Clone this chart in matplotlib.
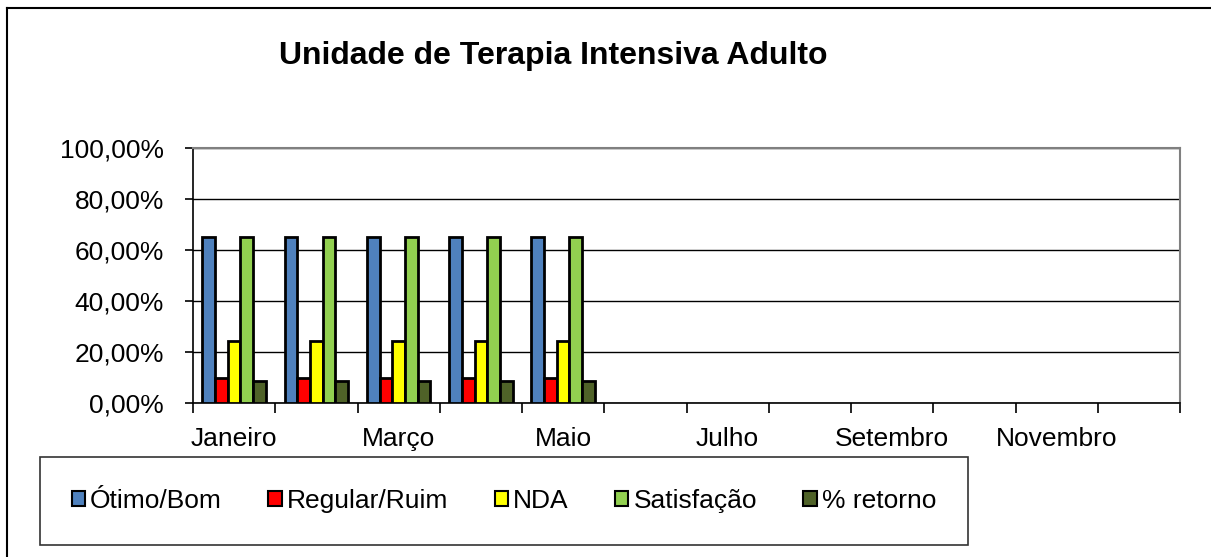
"""
Unidade de Terapia Intensiva Adulto - pesquisa de satisfação mensal.
"""

import matplotlib
matplotlib.use("Agg")
import matplotlib.pyplot as plt
from matplotlib.lines import Line2D
from matplotlib.ticker import FuncFormatter, FixedLocator
import numpy as np

plt.rcParams["font.family"] = ["Liberation Sans", "DejaVu Sans"]

MONTHS = ["Janeiro", "Fevereiro", "Março", "Abril", "Maio", "Junho",
          "Julho", "Agosto", "Setembro", "Outubro", "Novembro", "Dezembro"]
SERIES = ["Ótimo/Bom", "Regular/Ruim", "NDA", "Satisfação", "% retorno"]
COLORS = ["#4f81bd", "#ff0000", "#ffff00", "#92d050", "#4f6228"]

# values in percent, only Jan..Mai filled in
otimo_bom = [65.0, 65.0, 65.0, 65.0, 65.0]
regular_ruim = [10.0, 10.0, 10.0, 10.0, 10.0]
nda = [24.5, 24.5, 24.5, 24.5, 24.5]
satisfacao = [65.0, 65.0, 65.0, 65.0, 65.0]
retorno = [8.5, 8.5, 8.5, 8.5, 8.5]
values = [otimo_bom, regular_ruim, nda, satisfacao, retorno]

fig = plt.figure(figsize=(12.11, 5.57), dpi=100)
ax = fig.add_axes([193 / 1211, 1 - 403 / 557, (1180 - 193) / 1211, (403 - 148) / 557])

bw = 0.155
x = np.arange(len(otimo_bom))
for k, (name, vals, c) in enumerate(zip(SERIES, values, COLORS)):
    ax.bar(x + (k - 2) * bw, vals, width=bw, color=c, edgecolor="black",
           linewidth=2.0, label=name, zorder=3)

ax.set_xlim(-0.5, len(MONTHS) - 0.5)
ax.set_ylim(0, 100)
ax.set_yticks(np.arange(0, 101, 20))
ax.yaxis.set_major_formatter(FuncFormatter(lambda v, p: f"{v:.2f}%".replace(".", ",")))
ax.grid(axis="y", color="black", linewidth=1.0, zorder=0)

# ticks on category boundaries, labels on every other month
ax.xaxis.set_major_locator(FixedLocator(np.arange(-0.5, len(MONTHS))))
ax.xaxis.set_minor_locator(FixedLocator(np.arange(len(MONTHS))))
ax.set_xticklabels([], minor=False)
ax.set_xticklabels([m if i % 2 == 0 else "" for i, m in enumerate(MONTHS)], minor=True)
ax.tick_params(axis="x", which="minor", length=0, labelsize=19, pad=17)
ax.tick_params(axis="x", which="major", length=7, width=1.2, direction="out")
ax.tick_params(axis="y", length=6, width=1.2, labelsize=19, pad=15)

for s in ["top", "right"]:
    ax.spines[s].set_color("#808080")
    ax.spines[s].set_linewidth(1.5)
for s in ["left", "bottom"]:
    ax.spines[s].set_color("black")
    ax.spines[s].set_linewidth(1.2)

fig.text(553 / 1211, 1 - 56 / 557, "Unidade de Terapia Intensiva Adulto",
         ha="center", va="center", fontsize=23, fontweight="bold")

leg = fig.legend(loc="center", bbox_to_anchor=(40 / 1211, 1 - 547 / 557, (968 - 40) / 1211, (547 - 455) / 557),
                 mode="expand", ncol=5, fontsize=19, frameon=True, fancybox=False,
                 handlelength=0.5, handleheight=0.5, handletextpad=0.2,
                 columnspacing=1.0, borderpad=1.2, borderaxespad=0)
leg.get_frame().set_edgecolor("black")
leg.get_frame().set_linewidth(1.2)
for h in leg.legend_handles:
    h.set_linewidth(1.5)

# outer chart border (right and bottom run off the picture)
fig.add_artist(Line2D([7 / 1211, 7 / 1211], [0, 1 - 8 / 557], color="black", linewidth=1.5))
fig.add_artist(Line2D([7 / 1211, 1], [1 - 8 / 557, 1 - 8 / 557], color="black", linewidth=1.5))

fig.savefig("out.png", dpi=100)
